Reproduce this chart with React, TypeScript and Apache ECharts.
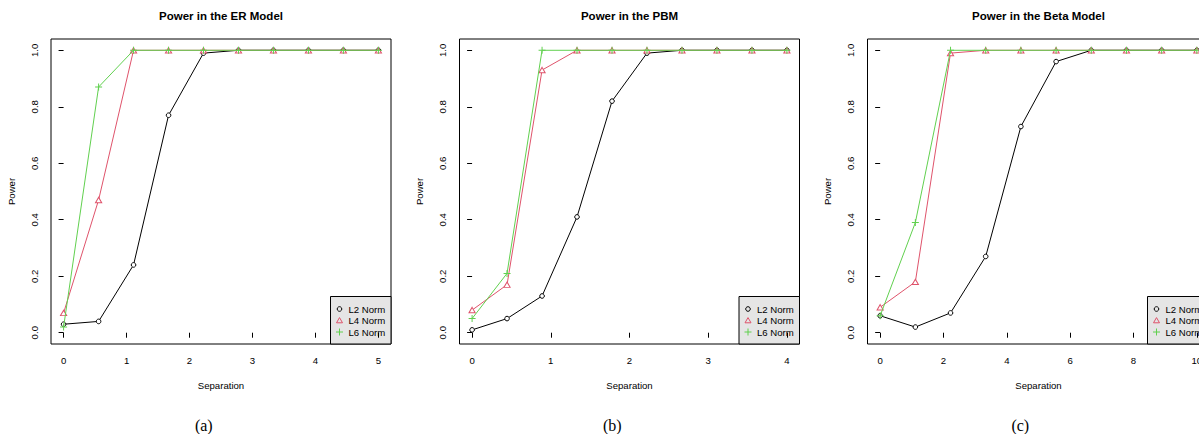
import React, { useEffect, useRef } from "react";
import * as echarts from "echarts";

// ---------- data ----------
const seriesNames = ["L2 Norm", "L4 Norm", "L6 Norm"];
const titles = ["Power in the ER Model", "Power in the PBM", "Power in the Beta Model"];
const subLabels = ["(a)", "(b)", "(c)"];
const axisXName = "Separation";
const axisYName = "Power";

const sepER = [0, 0.556, 1.111, 1.667, 2.222, 2.778, 3.333, 3.889, 4.444, 5];
const l2ER = [0.03, 0.04, 0.24, 0.77, 0.99, 1, 1, 1, 1, 1];
const l4ER = [0.07, 0.47, 1, 1, 1, 1, 1, 1, 1, 1];
const l6ER = [0.02, 0.87, 1, 1, 1, 1, 1, 1, 1, 1];

const sepPBM = [0, 0.444, 0.889, 1.333, 1.778, 2.222, 2.667, 3.111, 3.556, 4];
const l2PBM = [0.01, 0.05, 0.13, 0.41, 0.82, 0.99, 1, 1, 1, 1];
const l4PBM = [0.08, 0.17, 0.93, 1, 1, 1, 1, 1, 1, 1];
const l6PBM = [0.05, 0.21, 1, 1, 1, 1, 1, 1, 1, 1];

const sepBeta = [0, 1.111, 2.222, 3.333, 4.444, 5.556, 6.667, 7.778, 8.889, 10];
const l2Beta = [0.06, 0.02, 0.07, 0.27, 0.73, 0.96, 1, 1, 1, 1];
const l4Beta = [0.09, 0.18, 0.99, 1, 1, 1, 1, 1, 1, 1];
const l6Beta = [0.06, 0.39, 1, 1, 1, 1, 1, 1, 1, 1];

const xTicksER = [0, 1, 2, 3, 4, 5];
const xTicksPBM = [0, 1, 2, 3, 4];
const xTicksBeta = [0, 2, 4, 6, 8, 10];
const yTicks = [0, 0.2, 0.4, 0.6, 0.8, 1.0];

// ---------- styles / layout ----------
const FONT = "'Liberation Sans', Arial, Helvetica, sans-serif";
const SERIF = "'Liberation Serif', 'Times New Roman', serif";
const COLORS = ["#000000", "#DF536B", "#61D04F"];
const TOP = 39;
const HEIGHT = 305;
const WIDTHS = [340, 340, 342];
const LEFTS = [51, 459.5, 867.5];
const LEGEND_W = [60.5, 60.5, 62];
const FS = 9.6;
const CANVAS_W = 1230; // wider than the page so panel (c) is cut at the page edge like the reference

const panels = [
  { x: sepER, ys: [l2ER, l4ER, l6ER], ticks: xTicksER },
  { x: sepPBM, ys: [l2PBM, l4PBM, l6PBM], ticks: xTicksPBM },
  { x: sepBeta, ys: [l2Beta, l4Beta, l6Beta], ticks: xTicksBeta },
];

const PLUS = "path://M3,0H4V3H7V4H4V7H3V4H0V3H3Z";

function symbolFor(k: number) {
  if (k === 0)
    return {
      symbol: "circle",
      symbolSize: 4.6,
      itemStyle: { color: "#ffffff", borderColor: COLORS[0], borderWidth: 1 },
    };
  if (k === 1)
    return {
      symbol: "triangle",
      symbolSize: [6.2, 5.4],
      itemStyle: { color: "#ffffff", borderColor: COLORS[1], borderWidth: 1 },
    };
  return {
    symbol: PLUS,
    symbolSize: 7,
    itemStyle: { color: COLORS[2], borderWidth: 0 },
  };
}

function legendGraphic(i: number) {
  const right = LEFTS[i] + WIDTHS[i];
  const bottom = TOP + HEIGHT;
  const w = LEGEND_W[i];
  const h = 47.5;
  const x0 = right - w;
  const y0 = bottom - h;
  const mx = x0 + 9;
  const tx = x0 + 18;
  const rows = [y0 + 12.5, y0 + 24, y0 + 35.5];
  const children: any[] = [
    {
      type: "rect",
      shape: { x: x0, y: y0, width: w, height: h },
      style: { fill: "#e5e5e5", stroke: "#000", lineWidth: 1 },
    },
    {
      type: "circle",
      shape: { cx: mx, cy: rows[0], r: 2.3 },
      style: { fill: "none", stroke: COLORS[0], lineWidth: 1 },
    },
    {
      type: "polygon",
      shape: {
        points: [
          [mx - 3, rows[1] + 2.3],
          [mx + 3, rows[1] + 2.3],
          [mx, rows[1] - 2.9],
        ],
      },
      style: { fill: "none", stroke: COLORS[1], lineWidth: 1 },
    },
    {
      type: "line",
      shape: { x1: mx - 3.5, y1: rows[2], x2: mx + 3.5, y2: rows[2] },
      style: { stroke: COLORS[2], lineWidth: 1 },
    },
    {
      type: "line",
      shape: { x1: mx, y1: rows[2] - 3.5, x2: mx, y2: rows[2] + 3.5 },
      style: { stroke: COLORS[2], lineWidth: 1 },
    },
  ];
  seriesNames.forEach((n, k) => {
    children.push({
      type: "text",
      x: tx,
      y: rows[k],
      style: {
        text: n,
        fill: "#000",
        font: `${FS}px ${FONT}`,
        textAlign: "left",
        textVerticalAlign: "middle",
      },
    });
  });
  return { type: "group", children };
}

export default function App() {
  const ref = useRef<HTMLDivElement>(null);

  useEffect(() => {
    if (!ref.current) return;
    const chart = echarts.init(ref.current, undefined, { renderer: "svg" });

    const grid = panels.map((p, i) => ({
      left: LEFTS[i],
      top: TOP,
      width: WIDTHS[i],
      height: HEIGHT,
      show: true,
      borderColor: "#000",
      borderWidth: 1,
      backgroundColor: "transparent",
    }));

    const xAxis = panels.map((p, i) => {
      const lo = Math.min(...p.x);
      const hi = Math.max(...p.x);
      const pad = 0.04 * (hi - lo);
      return {
        type: "value",
        gridIndex: i,
        min: lo - pad,
        max: hi + pad,
        name: axisXName,
        nameLocation: "middle",
        nameGap: 36,
        nameTextStyle: { fontSize: FS, color: "#000", fontFamily: FONT },
        axisLine: { show: false },
        axisTick: {
          show: true,
          length: 5,
          customValues: p.ticks,
          lineStyle: { color: "#000", width: 1 },
        },
        axisLabel: {
          customValues: p.ticks,
          margin: 11,
          fontSize: FS,
          color: "#000",
          fontFamily: FONT,
          formatter: (v: number) => String(v),
        },
        splitLine: { show: false },
      };
    });

    const yAxis = panels.map((p, i) => ({
      type: "value",
      gridIndex: i,
      min: -0.04,
      max: 1.04,
      name: axisYName,
      nameLocation: "middle",
      nameGap: 35,
      nameTextStyle: { fontSize: FS, color: "#000", fontFamily: FONT },
      axisLine: { show: false },
      axisTick: {
        show: true,
        length: 5,
        customValues: yTicks,
        lineStyle: { color: "#000", width: 1 },
      },
      axisLabel: {
        customValues: yTicks,
        rotate: 90,
        margin: 12,
        fontSize: FS,
        color: "#000",
        fontFamily: FONT,
        formatter: (v: number) => v.toFixed(1),
      },
      splitLine: { show: false },
    }));

    const series: any[] = [];
    panels.forEach((p, i) => {
      p.ys.forEach((ys, k) => {
        series.push({
          type: "line",
          name: seriesNames[k],
          xAxisIndex: i,
          yAxisIndex: i,
          data: p.x.map((xv, j) => [xv, ys[j]]),
          lineStyle: { color: COLORS[k], width: 1 },
          showAllSymbol: true,
          silent: true,
          z: 2 + k,
          ...symbolFor(k),
        });
      });
    });

    const title = titles.map((t, i) => ({
      text: t,
      left: LEFTS[i] + WIDTHS[i] / 2,
      top: 10,
      textAlign: "center",
      padding: 0,
      textStyle: { fontSize: 11.5, fontWeight: "bold", color: "#000", fontFamily: FONT },
    }));

    const graphic: any[] = [];
    panels.forEach((p, i) => {
      graphic.push(legendGraphic(i));
      graphic.push({
        type: "text",
        x: LEFTS[i] + 152.8,
        y: 425,
        style: {
          text: subLabels[i],
          fill: "#000",
          font: `16px ${SERIF}`,
          textAlign: "center",
          textVerticalAlign: "middle",
        },
      });
    });

    chart.setOption({
      animation: false,
      backgroundColor: "#ffffff",
      title,
      grid,
      xAxis,
      yAxis,
      series,
      graphic,
    });

    return () => chart.dispose();
  }, []);

  return (
    <div
      style={{
        position: "fixed",
        left: 0,
        top: 0,
        width: 1199,
        height: 434,
        overflow: "hidden",
        background: "#fff",
      }}
    >
      <div ref={ref} style={{ width: CANVAS_W, height: 434 }} />
    </div>
  );
}
